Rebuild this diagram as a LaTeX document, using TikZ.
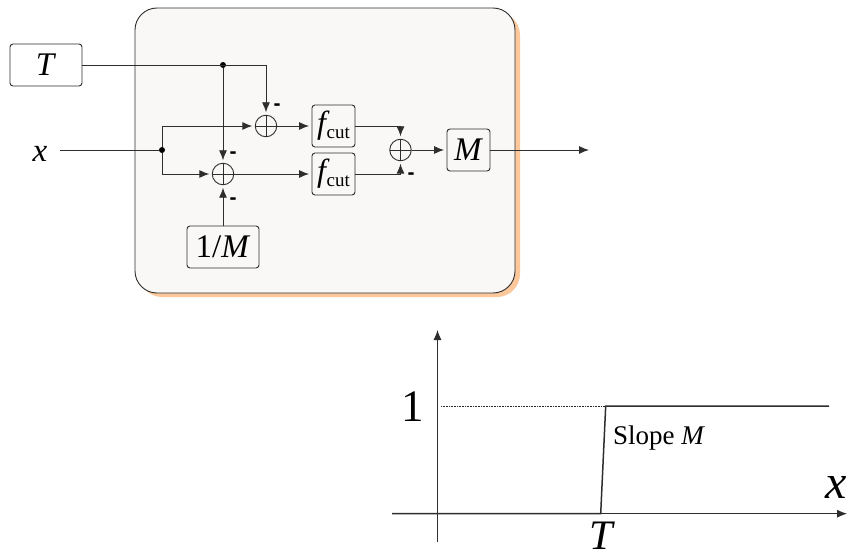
\documentclass[tikz,border=0pt]{standalone}
\usepackage{fontspec}
\setmainfont{Liberation Serif}
\newfontfamily\minusfont{Liberation Sans}
\usepackage{xcolor}
\usetikzlibrary{positioning,arrows.meta}
\definecolor{panelfill}{HTML}{F9F8F6}
\definecolor{panelshade}{HTML}{FBC79B}
\definecolor{inkline}{HTML}{2E2E2E}
\newcommand{\fsize}[1]{\fontsize{#1}{#1}\selectfont}
\newcommand{\fcut}{\fsize{32}\textit{f}\hspace{-3pt}\raisebox{-5pt}{\fsize{19}cut}}

\begin{document}
\begin{tikzpicture}[
    x=1pt,y=-1pt,
    font=\fsize{33},
    box/.style={draw=inkline,line width=0.9pt,rounded corners=3pt,inner sep=0pt,fill=white},
    widebox/.style={box,minimum width=72pt,minimum height=42pt},
    smallbox/.style={box,fill=panelfill,minimum width=43pt,minimum height=42pt},
    sumnode/.style={circle,draw=inkline,line width=0.9pt,minimum size=21.5pt,inner sep=0pt,
      path picture={\draw[inkline,line width=0.9pt]
        (path picture bounding box.north) -- (path picture bounding box.south)
        (path picture bounding box.west) -- (path picture bounding box.east);}},
    dotnode/.style={circle,fill=black,inner sep=0pt,minimum size=6pt},
    wire/.style={draw=inkline,line width=0.9pt},
    arr/.style={wire,-{Latex[length=10pt,width=8pt]},shorten >=2.5pt},
    minus/.style={font=\minusfont\bfseries\fsize{21},inner sep=0pt},
    label/.style={inner sep=0pt}
  ]
    \useasboundingbox (0,0) rectangle (849,559);

    % panel
    \fill[panelshade,rounded corners=23pt] (139,12) rectangle (520,297);
    \draw[draw=inkline,fill=panelfill,line width=0.9pt,rounded corners=22pt] (135,8) rectangle (515,293);

    \node[widebox] (tbox) at (46,65) {\textit{T}};
    \node[widebox,fill=panelfill] (mbox) at (223,247) {1/\textit{M}};
    \node[sumnode] (suma) at (266,126) {};
    \node[sumnode] (sumb) at (223,174) {};
    \node[sumnode] (sumc) at (400.5,150) {};
    \node[smallbox] (cuta) at (333.5,126) {\fcut};
    \node[smallbox] (cutb) at (333.5,174) {\fcut};
    \node[smallbox] (gain) at (468.5,150) {\textit{M}};

    \node[dotnode] (tdot) at (223,65) {};
    \node[dotnode] (xdot) at (162,150) {};
    \node[label] (xin) at (40,154) {\textit{x}};
    \coordinate (xstart) at (60,150);
    \coordinate (yout) at (589,150);

    \draw[arr] (tbox.east) -| (suma.north);
    \draw[arr] (tdot) -- (sumb.north);
    \draw[wire] (xstart) -- (xdot);
    \draw[arr] (xdot) |- (suma.west);
    \draw[arr] (xdot) |- (sumb.west);
    \draw[arr] (mbox.north) -- (sumb.south);
    \draw[arr] (suma.east) -- (cuta.west);
    \draw[arr] (sumb.east) -- (cutb.west);
    \draw[arr] (cuta.east) -| (sumc.north);
    \draw[arr] (cutb.east) -| (sumc.south);
    \draw[arr] (sumc.east) -- (gain.west);
    \draw[arr,shorten >=0pt] (gain.east) -- (yout);

    \node[minus] (ma) at (277,107) {-};
    \node[minus] (mb) at (233,155) {-};
    \node[minus] (mc) at (233,201) {-};
    \node[minus] (md) at (411,176) {-};

    % step plot
    \coordinate (xleft) at (392,513.7);
    \coordinate (xright) at (847,513.7);
    \coordinate (ybot) at (437.5,542);
    \coordinate (ytop) at (437.5,330);
    \coordinate (kneea) at (600.7,513.7);
    \coordinate (kneeb) at (605.7,406);
    \coordinate (stepend) at (829,406);
    \coordinate (dotstart) at (441,406);

    \draw[wire,-{Latex[length=10pt,width=8pt]}] (ybot) -- (ytop);
    \draw[wire,-{Latex[length=10pt,width=8pt]}] (xleft) -- (xright);
    \draw[inkline,line width=1.5pt] (xleft) -- (kneea) -- (kneeb) -- (stepend);
    \draw[inkline,line width=0.6pt,densely dotted] (dotstart) -- (kneeb);

    \node[label,font=\fsize{45}] (one) at (412.7,407) {1};
    \node[label,font=\fsize{42}] (tick) at (602,536) {\textit{T}};
    \node[label,font=\fsize{48}] (xaxis) at (836,487) {\textit{x}};
    \node[label,font=\fsize{27},anchor=west] (slope) at (613,438) {Slope \textit{M}};
  \end{tikzpicture}
\end{document}
